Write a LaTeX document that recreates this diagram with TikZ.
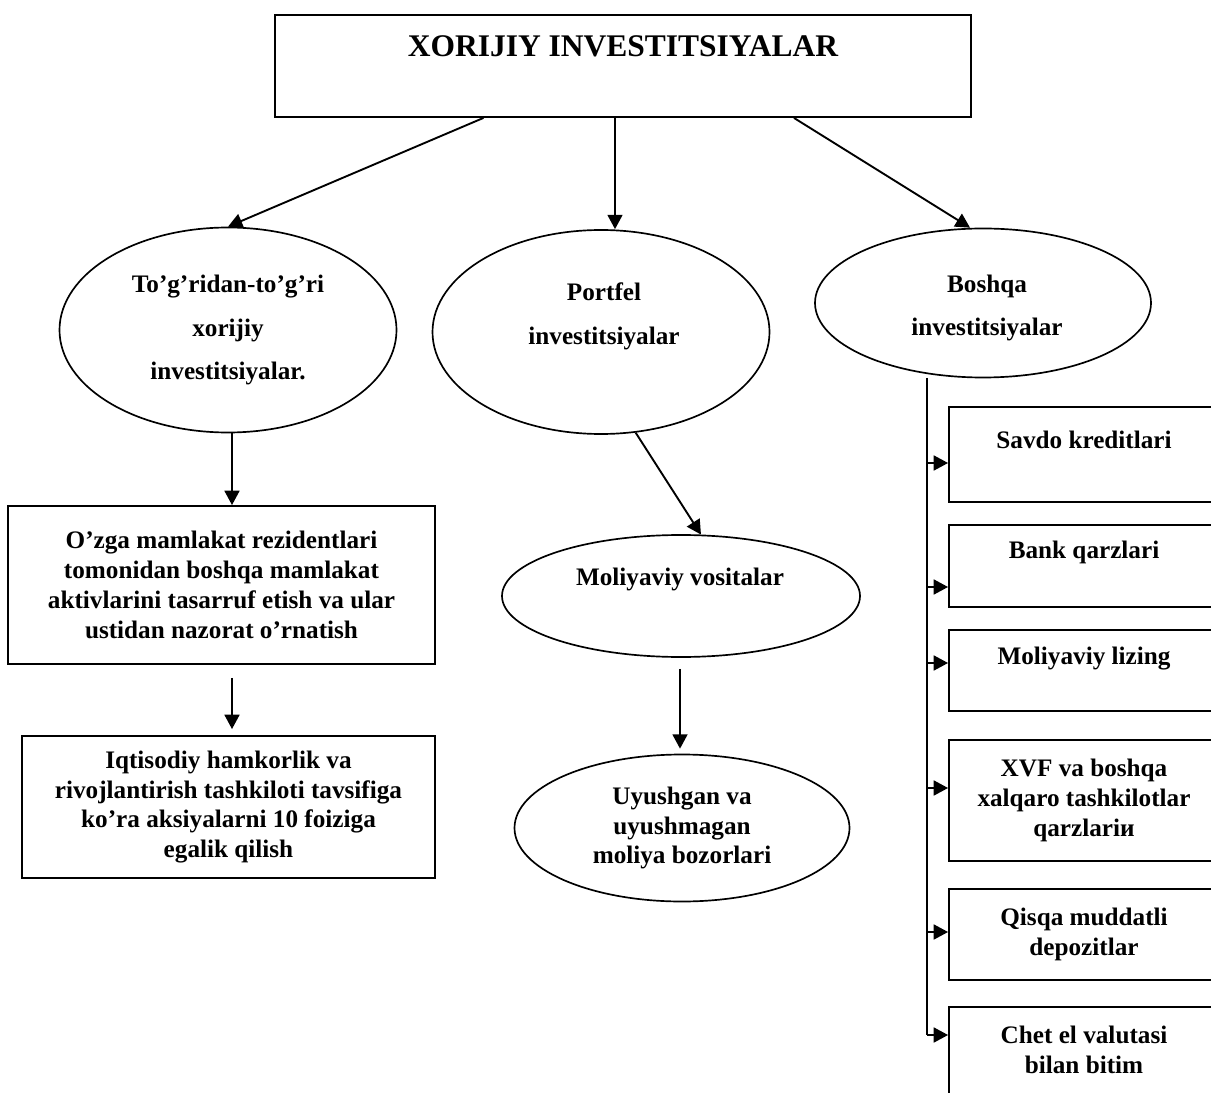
\documentclass[tikz,border=0pt]{standalone}
\usepackage{fontspec}
\setmainfont{Liberation Serif}
\usetikzlibrary{shapes.geometric,arrows.meta,positioning,calc}
\def\pxu{0.01674cm}

\begin{document}
\begin{tikzpicture}[x=\pxu, y=-\pxu, >={Triangle[width=0.25cm,length=0.24cm]},
    font=\fontsize{12}{14.2}\selectfont\bfseries,
    sz/.style 2 args={minimum width=#1*\pxu, minimum height=#2*\pxu},
    box/.style={draw, rectangle, line width=0.9pt, align=center, inner sep=0pt},
    oval/.style={draw, ellipse, line width=0.8pt, align=center, inner sep=0pt},
    txt/.style={align=center, inner sep=0pt},
    wide/.style={font=\fontsize{12}{20.9}\selectfont\bfseries},
    conn/.style={->, line width=0.9pt}]
    \useasboundingbox (0,0) rectangle (1211,1093);
    \clip (0,0) rectangle (1211,1093);
    % top box
    \node[box, sz={696}{102}] (xorijiy) at (623,66) {};
    \node[txt, font=\fontsize{15}{18}\selectfont\bfseries] (xorijiytxt) at (623,46) {XORIJIY INVESTITSIYALAR};
    % three kinds
    \node[oval, wide, sz={337}{205}] (tog) at (228,330) {To’g’ridan-to’g’ri\\xorijiy\\investitsiyalar.};
    \node[oval, sz={337}{204}] (portfel) at (601,332) {};
    \node[txt, wide] (portfeltxt) at (604,316) {Portfel\\investitsiyalar};
    \node[oval, sz={336}{149}] (boshqa) at (983,303) {};
    \node[txt, wide] (boshqatxt) at (987,308) {Boshqa\\investitsiyalar};
    % left column
    \node[box, sz={427}{158}] (ozga) at (221.5,585) {O’zga mamlakat rezidentlari\\tomonidan boshqa mamlakat\\aktivlarini tasarruf etish va ular\\ustidan nazorat o’rnatish};
    \node[box, sz={413}{142}] (iqt) at (228.5,807) {Iqtisodiy hamkorlik va\\rivojlantirish tashkiloti tavsifiga\\ko’ra aksiyalarni 10 foiziga\\egalik qilish};
    % middle column
    \node[oval, sz={358}{122}] (moliya) at (681,596) {};
    \node[txt] (moliyatxt) at (680,579) {Moliyaviy vositalar};
    \node[oval, sz={335}{147}] (uyush) at (682,828) {Uyushgan va\\uyushmagan\\moliya bozorlari};
    % right column
    \node[box, sz={270}{95}] (savdo) at (1084,454.5) {};
    \node[txt] (savdotxt) at (1084,440) {Savdo kreditlari};
    \node[box, sz={270}{82}] (bank) at (1084,566) {};
    \node[txt] (banktxt) at (1084,552.5) {Bank qarzlari};
    \node[box, sz={270}{81}] (lizing) at (1084,670.5) {};
    \node[txt] (lizingtxt) at (1084,659) {Moliyaviy lizing};
    \node[box, sz={270}{121}] (xvf) at (1084,800.5) {XVF va boshqa\\xalqaro tashkilotlar\\qarzlariи};
    \node[box, sz={270}{91}] (qisqa) at (1084,934.5) {Qisqa muddatli\\depozitlar};
    \node[box, sz={270}{100}] (chet) at (1084,1057) {};
    \node[txt] (chettxt) at (1084,1050) {Chet el valutasi\\bilan bitim};

    % arrows from the top box
    \draw[conn] ($(xorijiy.south west)!0.3!(xorijiy.south east)$) -- (tog.north);
    \draw[conn] ($(xorijiy.south)+(-8,0)$) coordinate (mid) -- (mid |- portfel.north);
    \draw[conn] ($(xorijiy.south west)!0.745!(xorijiy.south east)$) -- ($(boshqa.north)+(-13,0)$);
    % left and middle chains
    \draw[conn] ($(tog.south)+(4,0)$) coordinate (tl) -- (tl |- ozga.north);
    \draw[conn] ($(ozga.south)+(10.5,13)$) -- ($(iqt.north)+(3.5,-6)$);
    \draw[conn] (portfel.-71) -- (moliya.72);
    \draw[conn] ($(moliya.south)+(-1,11)$) -- ($(uyush.north)+(-2,-5)$);
    % spine on the right
    \coordinate (spinetop) at (927,378);
    \coordinate (s1) at (927,463);
    \coordinate (s2) at (927,587);
    \coordinate (s3) at (927,663);
    \coordinate (s4) at (927,788);
    \coordinate (s5) at (927,932);
    \coordinate (s6) at (927,1035);
    \draw[line width=0.9pt] (spinetop) -- (s6);
    \draw[conn] (s1) -- (s1 -| savdo.west);
    \draw[conn] (s2) -- (s2 -| bank.west);
    \draw[conn] (s3) -- (s3 -| lizing.west);
    \draw[conn] (s4) -- (s4 -| xvf.west);
    \draw[conn] (s5) -- (s5 -| qisqa.west);
    \draw[conn] (s6) -- (s6 -| chet.west);
\end{tikzpicture}
\end{document}
